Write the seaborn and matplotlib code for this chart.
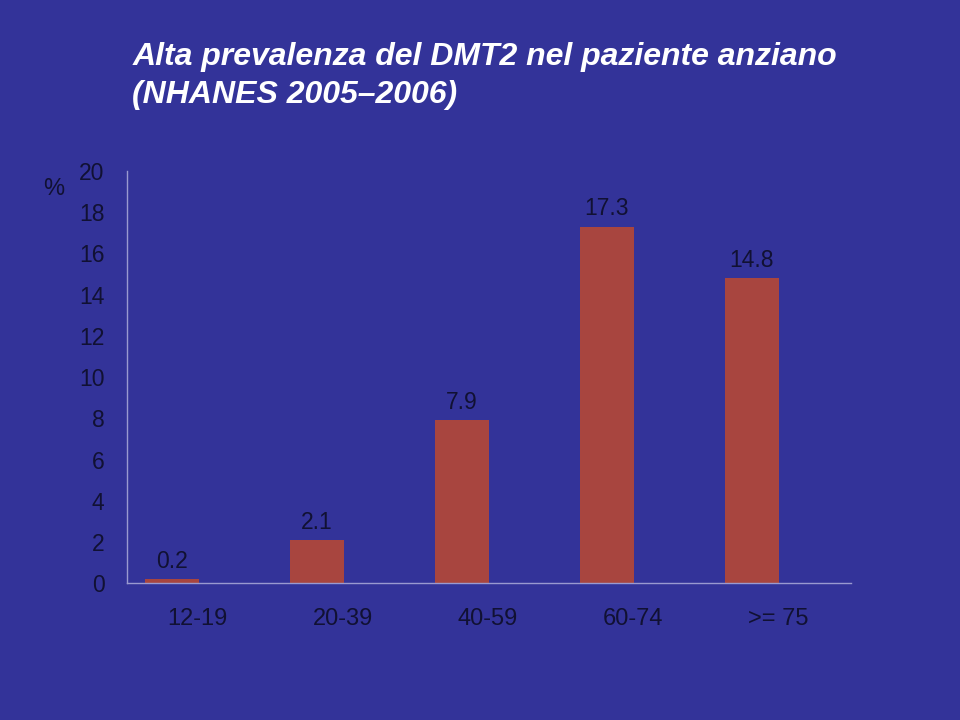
import matplotlib
matplotlib.use("Agg")
import matplotlib.pyplot as plt
import matplotlib.transforms as mtransforms
import seaborn as sns
import pandas as pd

# Data
age_groups = ["12-19", "20-39", "40-59", "60-74", ">= 75"]
prevalence = [0.2, 2.1, 7.9, 17.3, 14.8]
y_ticks = [0, 2, 4, 6, 8, 10, 12, 14, 16, 18, 20]

df = pd.DataFrame({"age": age_groups, "pct": prevalence})

bg = "#333399"
bar_color = "#A8453F"
text_dark = "#111133"

sns.set_style("white")
plt.rcParams["font.family"] = ["Liberation Sans", "DejaVu Sans"]

fig = plt.figure(figsize=(9.6, 7.2), dpi=100, facecolor=bg)
ax = fig.add_axes([0.132, 0.190, 0.754, 0.5725])
ax.set_facecolor(bg)

sns.barplot(data=df, x="age", y="pct", color=bar_color, width=0.37,
            saturation=1, linewidth=0, ax=ax)

for i, v in enumerate(prevalence):
    ax.text(i, v + 0.55, f"{v}", ha="center", va="baseline",
            fontsize=16.5, color=text_dark)

ax.set_xlim(-0.31, 4.68)
ax.set_ylim(0, 20)
ax.set_yticks(y_ticks)
ax.tick_params(axis="y", length=0, pad=16, labelsize=16.5, labelcolor=text_dark)
ax.tick_params(axis="x", length=0, pad=18, labelsize=17, labelcolor=text_dark)
ax.set_xlabel("")
ax.set_ylabel("")

# category labels sit a little right of the bars in the original
shift = mtransforms.ScaledTranslation(0.26, 0, fig.dpi_scale_trans)
for lbl in ax.get_xticklabels():
    lbl.set_transform(lbl.get_transform() + shift)

for side in ["top", "right"]:
    ax.spines[side].set_visible(False)
for side in ["left", "bottom"]:
    ax.spines[side].set_color("#9a9ad0")
    ax.spines[side].set_linewidth(1)

fig.text(0.056, 0.738, "%", fontsize=17, color=text_dark, ha="center", va="center")

fig.text(0.138, 0.910, "Alta prevalenza del DMT2 nel paziente anziano",
         fontsize=23, color="white", fontweight="bold", style="italic", ha="left", va="baseline")
fig.text(0.138, 0.857, "(NHANES 2005\u20132006)",
         fontsize=23, color="white", fontweight="bold", style="italic", ha="left", va="baseline")

fig.savefig("out.png", dpi=100, facecolor=bg)
